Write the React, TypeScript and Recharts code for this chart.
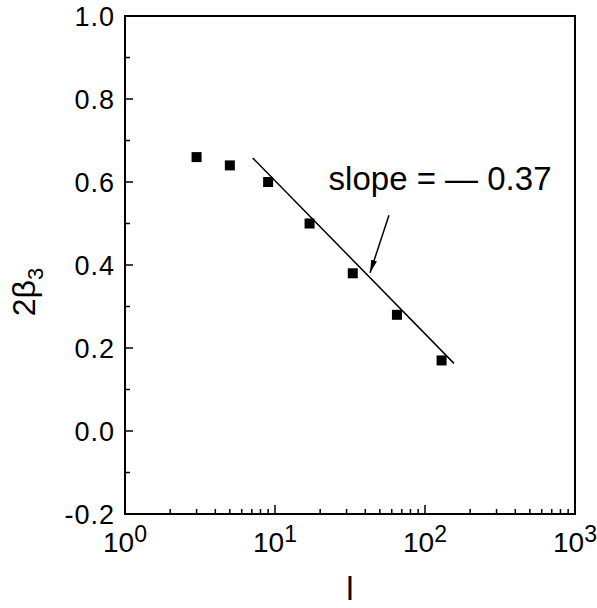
import React from 'react';
import {
  ScatterChart, Scatter, XAxis, YAxis, ReferenceArea, ReferenceLine, ReferenceDot,
} from 'recharts';

// measured points, l vs 2*beta3
const lValues = [3, 5, 9, 17, 33, 65, 129];
const beta2Values = [0.66, 0.64, 0.6, 0.5, 0.38, 0.28, 0.17];

// fitted power law, endpoints of the drawn segment
const fitL = [7.1, 156];
const fitBeta = [0.658, 0.163];

// annotation arrow (tail -> head) and label anchor
const arrowL = [57.5, 43];
const arrowBeta = [0.52, 0.381];
const slopeLabel = { l: 126, beta: 0.581, text: 'slope = \u2014 0.37' };

const xTicks = [
  1, 2, 3, 4, 5, 6, 7, 8, 9,
  10, 20, 30, 40, 50, 60, 70, 80, 90,
  100, 200, 300, 400, 500, 600, 700, 800, 900, 1000,
];
const yTicks = [-0.2, -0.1, 0, 0.1, 0.2, 0.3, 0.4, 0.5, 0.6, 0.7, 0.8, 0.9, 1.0];

const points = lValues.map((l, i) => ({ l, b: beta2Values[i] }));
const fitLine = fitL.map((l, i) => ({ l, b: fitBeta[i] }));

const FONT = '"Liberation Sans", Arial, Helvetica, sans-serif';

const XTick = (props: any) => {
  const { x, y, payload } = props;
  const exp = Math.log10(payload.value);
  const major = Math.abs(exp - Math.round(exp)) < 1e-6;
  return (
    <g>
      <line x1={x} y1={y} x2={x} y2={y - (major ? 9 : 5)} stroke="#000" strokeWidth={1.5} />
      {major && (
        <text x={x} y={y + 38} textAnchor="middle" fontSize={28} fontFamily={FONT} fill="#000">
          10<tspan dy={-10} fontSize={23}>{Math.round(exp)}</tspan>
        </text>
      )}
    </g>
  );
};

const YTick = (props: any) => {
  const { x, y, payload } = props;
  const major = Math.round(payload.value * 10) % 2 === 0;
  return (
    <g>
      <line x1={x} y1={y} x2={x + (major ? 8 : 5)} y2={y} stroke="#000" strokeWidth={1.5} />
      {major && (
        <text x={x - 10} y={y} dy="0.36em" textAnchor="end" fontSize={27} letterSpacing={1}
          fontFamily={FONT} fill="#000">
          {payload.value.toFixed(1)}
        </text>
      )}
    </g>
  );
};

export default function App() {
  return (
    <div style={{ position: 'absolute', left: 0, top: 0, width: 597, height: 608, background: '#fff' }}>
      <svg width={0} height={0} style={{ position: 'absolute' }}>
        <defs>
          <marker id="arrowHead" viewBox="0 0 10 10" refX={10} refY={5} markerWidth={13} markerHeight={6}
            markerUnits="userSpaceOnUse" orient="auto" preserveAspectRatio="none">
            <path d="M0,0 L10,5 L0,10 z" fill="#000" />
          </marker>
        </defs>
      </svg>
      <ScatterChart width={597} height={608} margin={{ top: 16, right: 22, bottom: 0, left: 0 }}>
        <XAxis
          dataKey="l" type="number" scale="log" domain={[1, 1000]} allowDataOverflow
          ticks={xTicks} interval={0} tickSize={0} tickMargin={0} tickLine={false}
          tick={<XTick />} height={94}
          axisLine={{ stroke: '#000', strokeWidth: 2 }}
          label={{
            content: (p: any) => (
              <text x={p.viewBox.x + p.viewBox.width / 2} y={p.viewBox.y + 86} textAnchor="middle"
                fontSize={33} fontFamily={FONT} fill="#000">l</text>
            ),
          }}
        />
        <YAxis
          dataKey="b" type="number" domain={[-0.2, 1.0]} allowDataOverflow
          ticks={yTicks} interval={0} tickSize={0} tickMargin={0} tickLine={false}
          tick={<YTick />} width={125}
          axisLine={{ stroke: '#000', strokeWidth: 2 }}
          label={{
            content: (p: any) => {
              const cx = p.viewBox.x + 35;
              const cy = p.viewBox.y + p.viewBox.height / 2 + 27;
              return (
                <text x={cx} y={cy} transform={`rotate(-90, ${cx}, ${cy})`} textAnchor="middle"
                  fontSize={32} fontFamily={FONT} fill="#000">
                  2β<tspan dy={8} fontSize={22}>3</tspan>
                </text>
              );
            },
          }}
        />
        <ReferenceArea x1={1} x2={1000} y1={-0.2} y2={1.0} fill="none" stroke="#000" strokeWidth={2} fillOpacity={0} />
        <Scatter
          data={fitLine} isAnimationActive={false}
          line={{ stroke: '#000', strokeWidth: 1.5 }}
          shape={() => <g />}
        />
        <Scatter
          data={points} isAnimationActive={false}
          shape={(p: any) => <rect x={p.cx - 5} y={p.cy - 5} width={10} height={10} fill="#000" />}
        />
        <ReferenceLine
          segment={[{ x: arrowL[0], y: arrowBeta[0] }, { x: arrowL[1], y: arrowBeta[1] }]}
          shape={(p: any) => (
            <line x1={p.x1} y1={p.y1} x2={p.x2} y2={p.y2} stroke="#000" strokeWidth={1.5} markerEnd="url(#arrowHead)" />
          )}
        />
        <ReferenceDot
          x={slopeLabel.l} y={slopeLabel.beta} r={1}
          shape={(p: any) => (
            <text x={p.cx} y={p.cy} textAnchor="middle" fontSize={33} fontFamily={FONT} fill="#000"
              style={{ whiteSpace: 'pre' }}>{slopeLabel.text}</text>
          )}
        />
      </ScatterChart>
    </div>
  );
}
